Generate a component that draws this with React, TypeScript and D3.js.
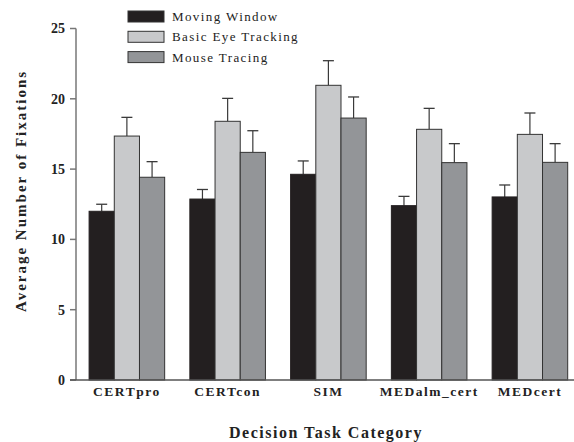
import React from "react";
import * as d3 from "d3";

const categories = ["CERTpro", "CERTcon", "SIM", "MEDalm_cert", "MEDcert"];
const seriesNames = ["Moving Window", "Basic Eye Tracking", "Mouse Tracing"];
const movingWindow = [12.0, 12.87, 14.63, 12.4, 13.02];
const movingWindowErr = [0.5, 0.68, 0.95, 0.66, 0.85];
const basicEye = [17.35, 18.4, 20.96, 17.83, 17.47];
const basicEyeErr = [1.33, 1.63, 1.75, 1.49, 1.52];
const mouseTracing = [14.42, 16.19, 18.63, 15.46, 15.48];
const mouseTracingErr = [1.11, 1.54, 1.5, 1.35, 1.33];
const yTicks = [0, 5, 10, 15, 20, 25];
const colors = ["#231f20", "#c8c9cb", "#939598"];

const W = 574;
const H = 442;

export default function App() {
  const series = [
    { name: seriesNames[0], values: movingWindow, errs: movingWindowErr, color: colors[0] },
    { name: seriesNames[1], values: basicEye, errs: basicEyeErr, color: colors[1] },
    { name: seriesNames[2], values: mouseTracing, errs: mouseTracingErr, color: colors[2] },
  ];
  const axisX = 76;
  const y = d3.scaleLinear().domain([0, 25]).range([380, 28.5]);
  const x0 = d3
    .scaleBand<string>()
    .domain(categories)
    .range([axisX, 580.8])
    .paddingInner(0.25)
    .paddingOuter(0.13);
  const x1 = d3
    .scaleBand<string>()
    .domain(seriesNames)
    .range([0, x0.bandwidth()])
    .padding(0);
  const serif = '"Liberation Serif", "Times New Roman", "DejaVu Serif", serif';
  const ts = { fontFamily: serif };

  return (
    <svg
      width={W}
      height={H}
      style={{ position: "absolute", left: 0, top: 0, background: "#fff", fontFamily: serif }}
    >
      {/* bars */}
      {categories.map((c, ci) => (
        <g key={c} transform={`translate(${x0(c)},0)`}>
          {series.map((s, si) => {
            const bx = x1(s.name)!;
            const bw = x1.bandwidth();
            const top = y(s.values[ci]);
            const cap = y(s.values[ci] + s.errs[ci]);
            const cx = bx + bw / 2;
            return (
              <g key={s.name}>
                <line x1={cx} x2={cx} y1={top} y2={cap} stroke="#3a3a3a" strokeWidth={1.2} />
                <line x1={cx - 5.5} x2={cx + 5.5} y1={cap} y2={cap} stroke="#3a3a3a" strokeWidth={1.3} />
                <rect
                  x={bx}
                  y={top}
                  width={bw}
                  height={y(0) - top}
                  fill={s.color}
                  stroke={si === 0 ? s.color : "#333"}
                  strokeWidth={1}
                />
              </g>
            );
          })}
        </g>
      ))}
      {/* y axis */}
      <line x1={axisX} x2={axisX} y1={y(25)} y2={y(0)} stroke="#777" strokeWidth={1.5} />
      {yTicks.map((t) => (
        <g key={t}>
          <line x1={axisX - 6} x2={axisX} y1={y(t)} y2={y(t)} stroke="#777" strokeWidth={1.5} />
          <text
            x={65}
            y={y(t)}
            dy="0.35em"
            textAnchor="end"
            fontSize={14}
            fontWeight="bold"
            fill="#222"
            style={ts}
          >
            {t}
          </text>
        </g>
      ))}
      {/* x baseline */}
      <line x1={axisX - 6} x2={W} y1={y(0)} y2={y(0)} stroke="#555" strokeWidth={1.6} />
      {/* category labels */}
      {categories.map((c) => (
        <text
          key={c}
          x={x0(c)! + x0.bandwidth() / 2}
          y={396}
          textAnchor="middle"
          fontSize={13.5}
          fontWeight="bold"
          letterSpacing={1.5}
          fill="#222"
          style={ts}
        >
          {c}
        </text>
      ))}
      {/* axis titles */}
      <text
        x={326}
        y={438}
        textAnchor="middle"
        fontSize={16}
        fontWeight="bold"
        letterSpacing={1.5}
        fill="#222"
        style={ts}
      >
        Decision Task Category
      </text>
      <text
        transform={`translate(26,191) rotate(-90)`}
        textAnchor="middle"
        fontSize={15}
        fontWeight="bold"
        letterSpacing={2}
        fill="#222"
        style={ts}
      >
        Average Number of Fixations
      </text>
      {/* legend */}
      {series.map((s, i) => (
        <g key={s.name} transform={`translate(128,${11 + i * 20.3})`}>
          <rect x={0} y={0} width={36} height={11} fill={s.color} stroke="#333" strokeWidth={1} />
          <text x={44} y={10} fontSize={13} letterSpacing={1.4} fill="#222" style={ts}>
            {s.name}
          </text>
        </g>
      ))}
    </svg>
  );
}
